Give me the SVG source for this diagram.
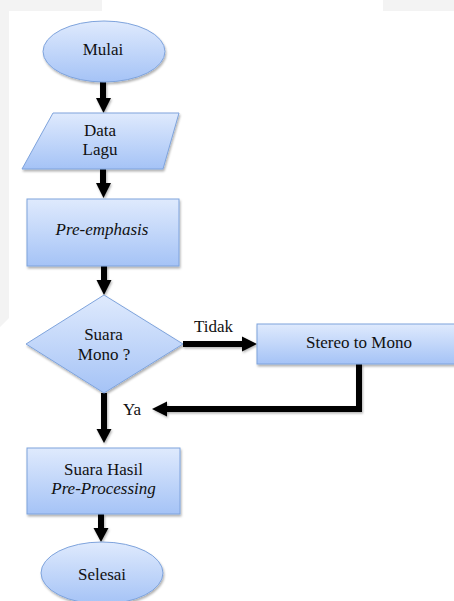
<svg xmlns="http://www.w3.org/2000/svg" width="454" height="601" viewBox="0 0 454 601">
<style>
.node{fill:url(#g);stroke:#7ea3dc;stroke-width:1;filter:url(#sh)}
.t{font-family:"Liberation Serif","Times New Roman","DejaVu Serif",serif;font-size:17px;fill:#111;text-anchor:middle}
.i{font-style:italic}
.c{stroke:#000;stroke-width:6;fill:none;filter:url(#sh2)}
.h{fill:#000;filter:url(#sh2)}
</style>
<defs>
<linearGradient id="g" x1="0" y1="0" x2="0" y2="1">
<stop offset="0" stop-color="#dfeafd"/>
<stop offset="1" stop-color="#a5c3f6"/>
</linearGradient>
<filter id="sh" x="-10%" y="-10%" width="125%" height="130%">
<feDropShadow dx="1" dy="2" stdDeviation="1.2" flood-color="#000" flood-opacity="0.3"/>
</filter>
<filter id="sh2" filterUnits="userSpaceOnUse" x="0" y="0" width="454" height="601">
<feDropShadow dx="1" dy="1.5" stdDeviation="0.8" flood-color="#000" flood-opacity="0.3"/>
</filter>
</defs>
<rect width="454" height="601" fill="#fff"/>
<path d="M0 0H102V11H9V318L0 327Z" fill="#f3f3f3"/>
<path d="M383 0H454V11H383Z" fill="#f3f3f3"/>
<g id="connectors">
<line class="c" x1="103" y1="82" x2="103" y2="99"/>
<polygon class="h" points="96,98 111,98 103.5,113"/>
<line class="c" x1="103" y1="169" x2="103" y2="184"/>
<polygon class="h" points="96,183 111,183 103.5,198"/>
<line class="c" x1="104" y1="266" x2="104" y2="281"/>
<polygon class="h" points="96.5,280 111.5,280 104,295"/>
<line class="c" x1="183" y1="344" x2="243" y2="344"/>
<polygon class="h" points="242,336.5 242,351.5 257,344"/>
<path class="c" d="M359 364V409H166"/>
<polygon class="h" points="167,401.5 167,416.5 152,409"/>
<line class="c" x1="104" y1="393" x2="104" y2="430"/>
<polygon class="h" points="96.5,429 111.5,429 104,443"/>
<line class="c" x1="101" y1="514" x2="101" y2="529"/>
<polygon class="h" points="93.5,528 108.5,528 101,542"/>
<text class="t" x="194" y="332" style="text-anchor:start">Tidak</text>
<text class="t" x="123" y="415" style="text-anchor:start">Ya</text>
</g>
<g id="mulai">
<ellipse class="node" cx="104" cy="51.5" rx="61" ry="30.5"/>
<text class="t" x="103" y="55">Mulai</text>
</g>
<g id="data-lagu">
<polygon class="node" points="53,113 179,113 163,169 22,169"/>
<text class="t" x="100" y="136">Data</text>
<text class="t" x="100" y="155">Lagu</text>
</g>
<g id="pre-emphasis">
<rect class="node" x="27" y="199" width="152" height="67"/>
<text class="t i" x="102" y="235">Pre-emphasis</text>
</g>
<g id="suara-mono">
<polygon class="node" points="104,295 183,344 104,393 26,344"/>
<text class="t" x="103.5" y="340">Suara</text>
<text class="t" x="104" y="359.5">Mono ?</text>
</g>
<g id="stereo-to-mono">
<rect class="node" x="257" y="324" width="200" height="40"/>
<text class="t" x="359" y="348">Stereo to Mono</text>
</g>
<g id="suara-hasil">
<rect class="node" x="27" y="448" width="153" height="66"/>
<text class="t" x="103.5" y="475">Suara Hasil</text>
<text class="t i" x="103.5" y="494">Pre-Processing</text>
</g>
<g id="selesai">
<ellipse class="node" cx="102" cy="573" rx="61" ry="31"/>
<text class="t" x="102" y="580">Selesai</text>
</g>
</svg>
